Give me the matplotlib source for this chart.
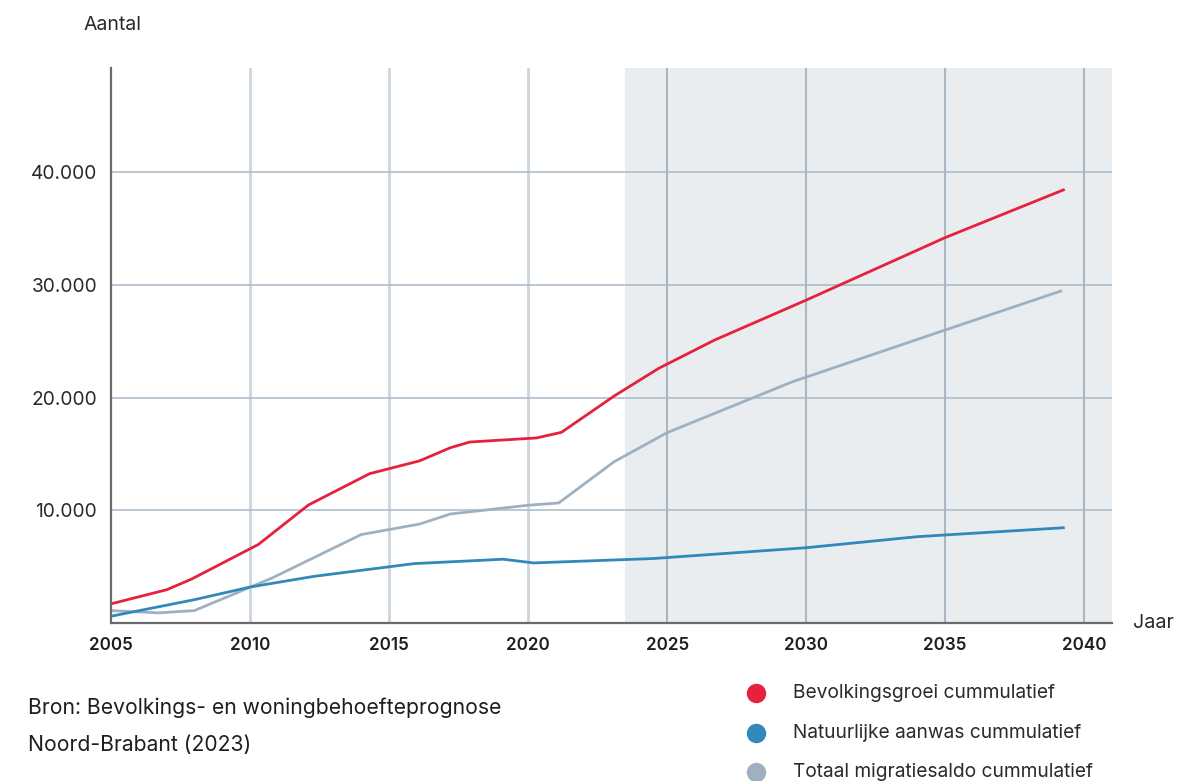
import matplotlib
matplotlib.use("Agg")
import matplotlib.pyplot as plt
from matplotlib.lines import Line2D

plt.rcParams['font.family'] = ['Inter', 'DejaVu Sans']

# ---- data ----
red_years = [2005.0, 2007.0, 2007.9, 2010.3, 2012.1, 2014.3, 2016.1, 2017.2, 2017.9,
             2020.3, 2021.2, 2023.1, 2024.7, 2026.7, 2030.0, 2035.0, 2039.3]
red_vals = [1700, 2950, 3900, 6970, 10470, 13250, 14390, 15550, 16060,
            16420, 16920, 20150, 22600, 25100, 28650, 34200, 38480]

blue_years = [2005.0, 2008.0, 2010.0, 2012.3, 2015.9, 2019.1, 2020.2, 2024.5,
              2030.0, 2034.0, 2039.3]
blue_vals = [600, 2070, 3190, 4140, 5270, 5660, 5330, 5720, 6680, 7660, 8460]

grey_years = [2005.0, 2006.7, 2008.0, 2010.8, 2014.0, 2016.1, 2017.2, 2020.0,
              2021.1, 2023.1, 2025.0, 2029.5, 2035.0, 2039.2]
grey_vals = [1100, 900, 1100, 4000, 7850, 8780, 9670, 10450, 10650, 14320,
             16890, 21400, 26000, 29490]

series_names = ["Bevolkingsgroei cummulatief", "Natuurlijke aanwas cummulatief",
                "Totaal migratiesaldo cummulatief"]
series_colors = ["#e5213e", "#3189bb", "#9fb1c0"]

x_ticks = [2005, 2010, 2015, 2020, 2025, 2030, 2035, 2040]
y_ticks = [10000, 20000, 30000, 40000]
y_tick_labels = ["10.000", "20.000", "30.000", "40.000"]
forecast_start = 2023.5

# ---- figure ----
W, H = 1201, 781
fig = plt.figure(figsize=(W / 100, H / 100), dpi=100)
ax = fig.add_axes([111 / W, 1 - 623 / H, (1112 - 111) / W, (623 - 68) / H])

ax.set_xlim(2005, 2041.0)
ax.set_ylim(0, 49250)

ax.axvspan(forecast_start, 2041.0, color="#e9edf0", zorder=0, lw=0)

for x in x_ticks[1:]:
    if x < forecast_start:
        ax.axvline(x, color="#cbd6e0", lw=2.0, zorder=1)
    else:
        ax.axvline(x, color="#a8b7c4", lw=1.5, zorder=1)
for y in y_ticks:
    ax.axhline(y, color="#a8b9c8", lw=1.1, zorder=1)

ax.plot(red_years, red_vals, color=series_colors[0], lw=2.0, zorder=3,
        solid_capstyle='butt', solid_joinstyle='round')
ax.plot(blue_years, blue_vals, color=series_colors[1], lw=2.0, zorder=3,
        solid_capstyle='butt', solid_joinstyle='round')
ax.plot(grey_years, grey_vals, color=series_colors[2], lw=2.0, zorder=2,
        solid_capstyle='butt', solid_joinstyle='round')

for s in ["top", "right"]:
    ax.spines[s].set_visible(False)
for s in ["left", "bottom"]:
    ax.spines[s].set_color("#6b6b6b")
    ax.spines[s].set_linewidth(1.6)
    ax.spines[s].set_zorder(4)

ax.set_xticks(x_ticks)
ax.set_xticklabels([str(x) for x in x_ticks], fontsize=12.3, fontweight="semibold",
                   color="#1e1e1e")
ax.set_yticks(y_ticks)
ax.set_yticklabels(y_tick_labels, fontsize=13.8, color="#2a2a2a")
ax.tick_params(axis="both", length=0)
ax.tick_params(axis="x", pad=10)
ax.tick_params(axis="y", pad=10)

# axis titles
fig.text(83 / W, 1 - 25 / H, "Aantal", fontsize=14, color="#2a2a2a",
         ha="left", va="center")
fig.text(1133 / W, 1 - 623 / H, "Jaar", fontsize=14.2, color="#2a2a2a",
         ha="left", va="center")

# source
fig.text(28 / W, 1 - 708 / H, "Bron: Bevolkings- en woningbehoefteprognose",
         fontsize=15.2, color="#1e1e1e", ha="left", va="center")
fig.text(28 / W, 1 - 745 / H, "Noord-Brabant (2023)",
         fontsize=15.2, color="#1e1e1e", ha="left", va="center")

# legend (manual)
leg_y = [693, 733, 772]
for name, col, yy in zip(series_names, series_colors, leg_y):
    fig.add_artist(Line2D([756 / W], [1 - yy / H], marker="o", markersize=14,
                          color=col, markeredgewidth=0, linestyle="none",
                          transform=fig.transFigure))
    fig.text(793 / W, 1 - yy / H, name, fontsize=13.8, color="#2a2a2a",
             ha="left", va="center")

fig.savefig("out.png", dpi=100)
